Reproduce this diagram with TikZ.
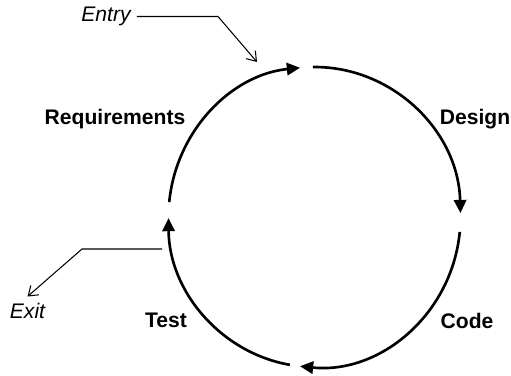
\documentclass[tikz,border=0pt]{standalone}
\usepackage{fontspec}
\setmainfont{Liberation Sans}
\usepackage{tikz}
\usetikzlibrary{positioning,calc,arrows.meta}

\begin{document}
\begin{tikzpicture}[
    font=\fontsize{12pt}{14pt}\selectfont,
    phase/.style={font=\fontsize{12pt}{14pt}\selectfont\bfseries},
    port/.style={font=\fontsize{12pt}{14pt}\selectfont\itshape},
    cycle arrow/.style={line width=1.5pt, -{Triangle[length=7.5pt,width=7pt]}},
    pointer/.style={line width=0.6pt, -{Straight Barb[length=5pt,width=7pt]}}
]
    \useasboundingbox (0,0) rectangle (10.22,7.5);

    % Cycle
    \coordinate (ctr) at (6.29,3.16);
    \foreach \name/\from/\to in {req/174.3/95.7, design/90.6/1.5, code/-5.7/-95.7, test/-99.7/-179.6}
        \draw[cycle arrow] ([shift={(\from:2.92 and 3)}]ctr) coordinate (\name start)
            arc[start angle=\from, end angle=\to, x radius=2.92, y radius=3];

    % Phases
    \node[phase] (req) at (2.30,5.12) {Requirements};
    \node[phase] (design) at (9.50,5.12) {Design};
    \node[phase] (code) at (9.34,1.09) {Code};
    \node[phase] (test) at (3.32,1.09) {Test};

    % Entry and exit
    \node[port] (entry) at (2.12,7.17) {Entry};
    \node[port] (exit) at (0.55,1.29) {Exit};
    \coordinate (entry bend) at (4.36,7.17);
    \coordinate (entry tip) at (5.14,6.26);
    \coordinate (exit start) at (3.24,2.52);
    \coordinate (exit bend) at (1.64,2.52);
    \draw[pointer] (entry) -- (entry bend) -- (entry tip);
    \draw[pointer] (exit start) -- (exit bend) -- (exit.north);
\end{tikzpicture}
\end{document}
